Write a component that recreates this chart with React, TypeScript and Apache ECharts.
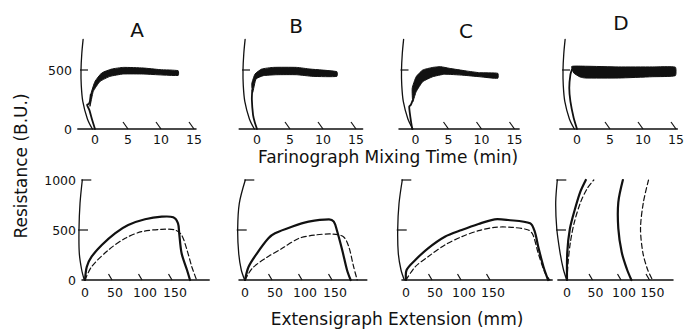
import React, { useEffect, useRef } from "react";
import * as echarts from "echarts";

// ---------- DATA ----------
const panelNames = ["A", "B", "C", "D"];
const farinoTickVals = [5, 10, 15];
const farinoLabelVals = [0, 5, 10, 15];
const extTickVals = [50, 100, 150];
const extLabelVals = [0, 50, 100, 150];
const farinoYLabelVals = [0, 500];
const extYLabelVals = [0, 500, 1000];
const farinoYTickVals = [500];
const extYTickVals = [500, 1000];

// Farinograph pen arc (min, B.U.)
const farinoArc = [[-1.8, 760], [-2.0, 640], [-2.12, 500], [-2.08, 370], [-1.85, 234], [-1.15, 85], [-0.4, 0]];

// Farinograph curves: thin rising trace + band (upper / lower edges)
const farinoStartA = [[0, 0], [-0.45, 80], [-0.85, 160], [-1.2, 205], [-0.95, 212], [-0.75, 240], [-0.65, 291]];
const farinoUpperA = [[-0.65, 291], [0, 403], [1.02, 475], [2.53, 508], [4.29, 522], [7.3, 517], [9.85, 503], [12.6, 494]];
const farinoLowerA = [[-0.76, 192], [-0.26, 319], [0.76, 403], [2.27, 446], [4.29, 466], [7.3, 466], [12.6, 454]];

const farinoStartB = [[0, 0], [-0.35, 60], [-0.6, 120], [-0.78, 250], [-0.72, 330]];
const farinoUpperB = [[-0.8, 381], [-0.3, 466], [0.71, 508], [2.47, 522], [6.0, 522], [8.03, 508], [12.1, 486]];
const farinoLowerB = [[-0.65, 310], [-0.15, 424], [0.95, 452], [2.98, 460], [6.0, 460], [8.5, 446], [12.1, 446]];

const farinoStartC = [[-0.5, 0], [-0.8, 110], [-0.95, 190], [-0.7, 205], [-0.45, 240]];
const farinoUpperC = [[-0.5, 345], [0.1, 443], [1.1, 500], [2.62, 522], [3.8, 528], [5.15, 514], [7.68, 492], [9.7, 477], [12.47, 472]];
const farinoLowerC = [[-0.41, 231], [0.1, 316], [1.1, 401], [2.62, 443], [4.39, 464], [7.17, 456], [9.7, 443], [12.47, 430]];

const farinoStartD = [[0, 0], [-0.5, 93], [-1.0, 234], [-1.17, 347], [-1.0, 460], [-0.76, 505]];
const farinoUpperD = [[-0.8, 530], [1.26, 532], [6.3, 526], [11.4, 526], [14.9, 524]];
const farinoLowerD = [[-0.5, 475], [0.5, 440], [1.26, 432], [6.3, 432], [11.4, 443], [14.9, 452]];

// Extensigraph pen arcs (mm, B.U.)
const extArcA = [[-4.5, 1000], [-8.3, 767], [-10, 507], [-9.5, 267], [-5.5, 100], [-1.2, 0]];
const extArcB = [[0.5, 1000], [-9.5, 767], [-12.2, 507], [-10.5, 267], [-6.2, 100], [-0.5, 0]];
const extArcC = [[-6.4, 1000], [-12, 767], [-14.3, 507], [-13.3, 267], [-8.6, 100], [-2.9, 0]];
const extArcD = [[-17, 1000], [-19.8, 777], [-18, 517], [-12.3, 277], [-6.5, 110], [-0.5, 0]];

// Extensigraph curves
const extSolidA = [[0, 0], [3, 133], [11, 233], [28, 350], [50, 467], [72, 550], [100, 607], [128, 633], [147, 627], [155, 567], [157, 467], [161, 267], [170, 100], [175, 0]];
const extDashedA = [[0, 0], [11, 133], [39, 300], [67, 417], [94, 483], [128, 507], [150, 500], [161, 450], [170, 300], [178, 133], [186, 0]];
const extSolidB = [[0, 0], [6, 133], [20, 267], [39, 417], [50, 467], [78, 533], [106, 583], [140, 607], [148, 583], [153, 500], [162, 300], [170, 100], [176, 0]];
const extDashedB = [[0, 0], [12, 117], [34, 217], [62, 317], [90, 417], [117, 450], [145, 460], [164, 433], [173, 333], [181, 133], [187, 0]];
const extSolidC = [[0, 0], [1, 100], [16, 200], [38, 317], [67, 433], [96, 500], [125, 560], [153, 607], [176, 600], [214, 567], [222, 483], [228, 333], [237, 133], [245, 0]];
const extDashedC = [[0, 0], [16, 133], [38, 233], [67, 350], [96, 433], [125, 493], [153, 527], [182, 527], [211, 500], [219, 450], [228, 267], [240, 67], [248, 0]];
const extSolidD1 = [[0, 0], [0.5, 277], [5, 510], [14, 710], [23, 877], [33, 1000]];
const extDashedD1 = [[0, 0], [2, 180], [6, 380], [13, 580], [24, 780], [36, 920], [47, 1000]];
const extSolidD2 = [[98, 1000], [90, 777], [90, 517], [96, 277], [105, 110], [113, 0]];
const extDashedD2 = [[143, 1000], [134, 777], [129, 517], [133, 277], [141, 110], [150, 0]];

const farinoPanels = [
  { start: farinoStartA, upper: farinoUpperA, lower: farinoLowerA },
  { start: farinoStartB, upper: farinoUpperB, lower: farinoLowerB },
  { start: farinoStartC, upper: farinoUpperC, lower: farinoLowerC },
  { start: farinoStartD, upper: farinoUpperD, lower: farinoLowerD },
];
const extPanels = [
  { arc: extArcA, solid: [extSolidA], dashed: [extDashedA] },
  { arc: extArcB, solid: [extSolidB], dashed: [extDashedB] },
  { arc: extArcC, solid: [extSolidC], dashed: [extDashedC] },
  { arc: extArcD, solid: [extSolidD1, extSolidD2], dashed: [extDashedD1, extDashedD2] },
];

// ---------- LAYOUT / STYLE ----------
const FONT = "'DejaVu Sans', sans-serif";
const INK = "#111";
const farinoLayout = [
  { x0: 95, min: -2.6, max: 15.3 },
  { x0: 257, min: -2.7, max: 16 },
  { x0: 415.5, min: -2.5, max: 15.7 },
  { x0: 577, min: -2.6, max: 15.2 },
];
const FAR_PX = 6.6;
const FAR_BASE = 129;
const FAR_YMAX = 760;
const FAR_PXBU = 0.118;
const extLayout = [
  { x0: 85, s: 0.6, min: -5, max: 207 },
  { x0: 245, s: 0.6, min: -10, max: 203 },
  { x0: 406, s: 0.58, min: -7, max: 252 },
  { x0: 567, s: 0.57, min: -16, max: 186 },
];
const EXT_TOP = 180;
const EXT_H = 100;
const EXT_YMAX = 1000;

function arcXAt(arc: number[][], v: number) {
  for (let i = 0; i < arc.length - 1; i++) {
    const [x1, y1] = arc[i];
    const [x2, y2] = arc[i + 1];
    if ((v <= y1 && v >= y2) || (v >= y1 && v <= y2)) {
      const t = y1 === y2 ? 0 : (v - y1) / (y2 - y1);
      return x1 + t * (x2 - x1);
    }
  }
  return arc[0][0];
}

function buildOption() {
  const grid: any[] = [];
  const xAxis: any[] = [];
  const yAxis: any[] = [];
  const series: any[] = [];

  const polyS = (idx: number, data: number[][], width: number, dashed = false, smooth = 0.3) => ({
    type: "custom", xAxisIndex: idx, yAxisIndex: idx, silent: true, clip: false,
    data: data.map((p) => [p[0], p[1]]),
    renderItem: (params: any, api: any) => {
      if (params.dataIndex !== 0) return null;
      return {
        type: "polyline",
        shape: { points: data.map((p) => api.coord(p)), smooth },
        style: { stroke: INK, fill: "none", lineWidth: width, lineDash: dashed ? [5, 3] : null, lineCap: "round", lineJoin: "round" },
      };
    },
  });
  const xTickS = (idx: number, ticks: number[], dx: number, w: number, h: number) => ({
    type: "custom", xAxisIndex: idx, yAxisIndex: idx, silent: true, clip: false,
    data: ticks.map((v) => [v, 0]),
    renderItem: (_p: any, api: any) => {
      const p = api.coord([api.value(0), api.value(1)]);
      return { type: "line", shape: { x1: p[0] + dx - w, y1: p[1] - h, x2: p[0] + dx, y2: p[1] },
        style: { stroke: INK, lineWidth: 1.2 } };
    },
  });
  const yTickS = (idx: number, arc: number[][], ticks: number[], a: number, b: number) => ({
    type: "custom", xAxisIndex: idx, yAxisIndex: idx, silent: true, clip: false,
    data: ticks.map((v) => [arcXAt(arc, v), v]),
    renderItem: (_p: any, api: any) => {
      const p = api.coord([api.value(0), api.value(1)]);
      return { type: "line", shape: { x1: p[0] + a, y1: p[1], x2: p[0] + b, y2: p[1] },
        style: { stroke: INK, lineWidth: 1.2 } };
    },
  });
  const bandS = (idx: number, upper: number[][], lower: number[][]) => ({
    type: "custom", xAxisIndex: idx, yAxisIndex: idx, silent: true, clip: false,
    data: [[upper[0][0], upper[0][1]]],
    renderItem: (_p: any, api: any) => ({
      type: "polygon",
      shape: { points: upper.concat(lower.slice().reverse()).map((p) => api.coord(p)), smooth: 0.15 },
      style: { fill: INK, stroke: INK, lineWidth: 1 },
    }),
  });

  const labelStyle = { color: INK, fontFamily: FONT, fontSize: 12.5, formatter: (v: number) => String(v) };

  // top row
  farinoLayout.forEach((L, i) => {
    const idx = grid.length;
    grid.push({
      left: L.x0 + L.min * FAR_PX, width: (L.max - L.min) * FAR_PX,
      top: FAR_BASE - FAR_YMAX * FAR_PXBU, height: FAR_YMAX * FAR_PXBU,
      containLabel: false, outerBoundsMode: "none",
    });
    xAxis.push({
      type: "value", gridIndex: idx, min: L.min, max: L.max,
      axisLine: { show: true, onZero: false, lineStyle: { color: INK, width: 1.5 } },
      axisTick: { show: false }, splitLine: { show: false },
      axisLabel: { ...labelStyle, margin: 4, customValues: farinoLabelVals },
    });
    yAxis.push({
      type: "value", gridIndex: idx, min: 0, max: FAR_YMAX,
      axisLine: { show: false }, axisTick: { show: false }, splitLine: { show: false },
      axisLabel: { show: i === 0, ...labelStyle, margin: 6, customValues: farinoYLabelVals },
    });
    const P = farinoPanels[i];
    series.push(polyS(idx, farinoArc, 1.3));
    series.push(polyS(idx, P.start, 1.8, false, 0.2));
    series.push(bandS(idx, P.upper, P.lower));
    series.push(xTickS(idx, farinoTickVals, 0, 5, 7));
    series.push(yTickS(idx, farinoArc, farinoYTickVals, -1, 7));
  });

  // bottom row
  extLayout.forEach((L, i) => {
    const idx = grid.length;
    grid.push({
      left: L.x0 + L.min * L.s, width: (L.max - L.min) * L.s,
      top: EXT_TOP, height: EXT_H, containLabel: false, outerBoundsMode: "none",
    });
    xAxis.push({
      type: "value", gridIndex: idx, min: L.min, max: L.max,
      axisLine: { show: true, onZero: false, lineStyle: { color: INK, width: 1.5 } },
      axisTick: { show: false }, splitLine: { show: false },
      axisLabel: { ...labelStyle, margin: 6, customValues: extLabelVals },
    });
    yAxis.push({
      type: "value", gridIndex: idx, min: 0, max: EXT_YMAX,
      axisLine: { show: false }, axisTick: { show: false }, splitLine: { show: false },
      axisLabel: { show: i === 0, ...labelStyle, margin: 6, customValues: extYLabelVals },
    });
    const P = extPanels[i];
    series.push(polyS(idx, P.arc, 1.3));
    P.solid.forEach((d) => series.push(polyS(idx, d, 2.2)));
    P.dashed.forEach((d) => series.push(polyS(idx, d, 1.2, true)));
    series.push(xTickS(idx, extTickVals, -3, 3.5, 6));
    series.push(yTickS(idx, P.arc, extYTickVals, -1, 9));
  });

  const letterPos = [[137, 30], [296, 26], [466, 31], [621, 23]];
  const graphic: any[] = panelNames.map((n, i) => ({
    type: "text", x: letterPos[i][0], y: letterPos[i][1],
    style: { text: n, fill: INK, font: `20px ${FONT}`, textAlign: "center", textVerticalAlign: "middle" },
  }));
  graphic.push({
    type: "text", x: 388, y: 157,
    style: { text: "Farinograph Mixing Time (min)", fill: INK, font: `17px ${FONT}`, textAlign: "center", textVerticalAlign: "middle" },
  });
  graphic.push({
    type: "text", x: 397, y: 319,
    style: { text: "Extensigraph Extension (mm)", fill: INK, font: `17px ${FONT}`, textAlign: "center", textVerticalAlign: "middle" },
  });
  graphic.push({
    type: "text", x: 21, y: 166, rotation: Math.PI / 2,
    style: { text: "Resistance (B.U.)", fill: INK, font: `17px ${FONT}`, textAlign: "center", textVerticalAlign: "middle" },
  });

  return { animation: false, backgroundColor: "#fff", grid, xAxis, yAxis, series, graphic };
}

export default function App() {
  const ref = useRef<HTMLDivElement>(null);
  useEffect(() => {
    if (!ref.current) return;
    const chart = echarts.init(ref.current, null, { renderer: "svg" });
    chart.setOption(buildOption() as any);
    return () => chart.dispose();
  }, []);
  return (
    <div
      ref={ref}
      style={{ position: "fixed", left: 0, top: 0, width: 688, height: 329, background: "#fff" }}
    />
  );
}
